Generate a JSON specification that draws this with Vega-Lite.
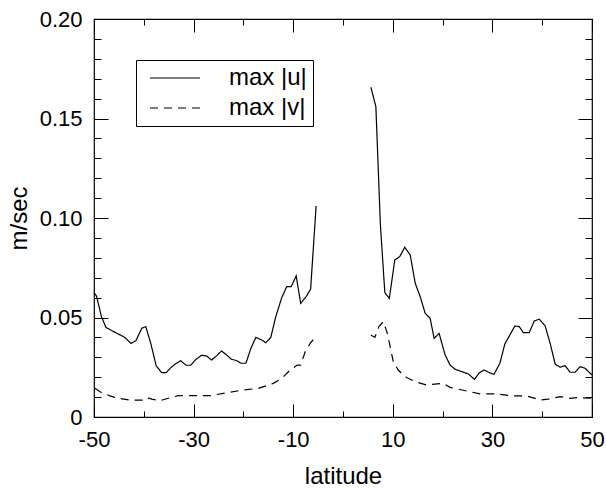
{
  "$schema": "https://vega.github.io/schema/vega-lite/v6.json",
  "width": 498,
  "height": 398,
  "autosize": {"type": "none"},
  "padding": {"left": 94, "top": 19, "right": 14, "bottom": 72},
  "background": "white",
  "config": {
    "font": "Liberation Sans",
    "view": {"stroke": "black", "strokeWidth": 1.2},
    "axis": {"zindex": 1, "grid": false, "domain": false, "labelFlush": false, "labelColor": "black", "titleColor": "black", "tickColor": "black", "tickWidth": 1, "labelFont": "Liberation Sans", "titleFont": "Liberation Sans", "titleFontWeight": "normal"}
  },
  "data": {"values": [
    {"lat": -50, "val": 0.0625, "series": "max |u|", "seg": "S"},
    {"lat": -49.5, "val": 0.0608, "series": "max |u|", "seg": "S"},
    {"lat": -48.5, "val": 0.0504, "series": "max |u|", "seg": "S"},
    {"lat": -47.6, "val": 0.045, "series": "max |u|", "seg": "S"},
    {"lat": -46.5, "val": 0.0435, "series": "max |u|", "seg": "S"},
    {"lat": -45.1, "val": 0.0417, "series": "max |u|", "seg": "S"},
    {"lat": -43.8, "val": 0.040, "series": "max |u|", "seg": "S"},
    {"lat": -42.6, "val": 0.037, "series": "max |u|", "seg": "S"},
    {"lat": -41.6, "val": 0.0383, "series": "max |u|", "seg": "S"},
    {"lat": -40.4, "val": 0.0446, "series": "max |u|", "seg": "S"},
    {"lat": -39.6, "val": 0.0454, "series": "max |u|", "seg": "S"},
    {"lat": -38.6, "val": 0.037, "series": "max |u|", "seg": "S"},
    {"lat": -37.5, "val": 0.0256, "series": "max |u|", "seg": "S"},
    {"lat": -36.4, "val": 0.0223, "series": "max |u|", "seg": "S"},
    {"lat": -35.5, "val": 0.0223, "series": "max |u|", "seg": "S"},
    {"lat": -34.7, "val": 0.0245, "series": "max |u|", "seg": "S"},
    {"lat": -33.7, "val": 0.0266, "series": "max |u|", "seg": "S"},
    {"lat": -32.6, "val": 0.0283, "series": "max |u|", "seg": "S"},
    {"lat": -31.5, "val": 0.026, "series": "max |u|", "seg": "S"},
    {"lat": -30.6, "val": 0.026, "series": "max |u|", "seg": "S"},
    {"lat": -29.5, "val": 0.029, "series": "max |u|", "seg": "S"},
    {"lat": -28.4, "val": 0.031, "series": "max |u|", "seg": "S"},
    {"lat": -27.4, "val": 0.0307, "series": "max |u|", "seg": "S"},
    {"lat": -26.4, "val": 0.0286, "series": "max |u|", "seg": "S"},
    {"lat": -25.4, "val": 0.0307, "series": "max |u|", "seg": "S"},
    {"lat": -24.4, "val": 0.0332, "series": "max |u|", "seg": "S"},
    {"lat": -23.4, "val": 0.0312, "series": "max |u|", "seg": "S"},
    {"lat": -22.4, "val": 0.029, "series": "max |u|", "seg": "S"},
    {"lat": -21.3, "val": 0.0283, "series": "max |u|", "seg": "S"},
    {"lat": -20.5, "val": 0.027, "series": "max |u|", "seg": "S"},
    {"lat": -19.5, "val": 0.027, "series": "max |u|", "seg": "S"},
    {"lat": -18.5, "val": 0.0345, "series": "max |u|", "seg": "S"},
    {"lat": -17.5, "val": 0.040, "series": "max |u|", "seg": "S"},
    {"lat": -16.3, "val": 0.0387, "series": "max |u|", "seg": "S"},
    {"lat": -15.5, "val": 0.0373, "series": "max |u|", "seg": "S"},
    {"lat": -14.5, "val": 0.040, "series": "max |u|", "seg": "S"},
    {"lat": -13.5, "val": 0.0504, "series": "max |u|", "seg": "S"},
    {"lat": -12.3, "val": 0.060, "series": "max |u|", "seg": "S"},
    {"lat": -11.3, "val": 0.0655, "series": "max |u|", "seg": "S"},
    {"lat": -10.4, "val": 0.0655, "series": "max |u|", "seg": "S"},
    {"lat": -9.4, "val": 0.0709, "series": "max |u|", "seg": "S"},
    {"lat": -8.5, "val": 0.0571, "series": "max |u|", "seg": "S"},
    {"lat": -7.4, "val": 0.0605, "series": "max |u|", "seg": "S"},
    {"lat": -6.5, "val": 0.0643, "series": "max |u|", "seg": "S"},
    {"lat": -5.4, "val": 0.106, "series": "max |u|", "seg": "S"},
    {"lat": 5.6, "val": 0.1657, "series": "max |u|", "seg": "N"},
    {"lat": 6.6, "val": 0.156, "series": "max |u|", "seg": "N"},
    {"lat": 7.5, "val": 0.097, "series": "max |u|", "seg": "N"},
    {"lat": 8.4, "val": 0.0625, "series": "max |u|", "seg": "N"},
    {"lat": 9.3, "val": 0.0596, "series": "max |u|", "seg": "N"},
    {"lat": 10.4, "val": 0.0789, "series": "max |u|", "seg": "N"},
    {"lat": 11.4, "val": 0.0806, "series": "max |u|", "seg": "N"},
    {"lat": 12.4, "val": 0.0853, "series": "max |u|", "seg": "N"},
    {"lat": 13.5, "val": 0.0814, "series": "max |u|", "seg": "N"},
    {"lat": 14.5, "val": 0.0672, "series": "max |u|", "seg": "N"},
    {"lat": 15.5, "val": 0.0605, "series": "max |u|", "seg": "N"},
    {"lat": 16.5, "val": 0.0521, "series": "max |u|", "seg": "N"},
    {"lat": 17.5, "val": 0.0496, "series": "max |u|", "seg": "N"},
    {"lat": 18.3, "val": 0.0395, "series": "max |u|", "seg": "N"},
    {"lat": 19.3, "val": 0.042, "series": "max |u|", "seg": "N"},
    {"lat": 20.5, "val": 0.0312, "series": "max |u|", "seg": "N"},
    {"lat": 21.5, "val": 0.0261, "series": "max |u|", "seg": "N"},
    {"lat": 22.5, "val": 0.024, "series": "max |u|", "seg": "N"},
    {"lat": 23.5, "val": 0.0231, "series": "max |u|", "seg": "N"},
    {"lat": 25.2, "val": 0.0216, "series": "max |u|", "seg": "N"},
    {"lat": 26.4, "val": 0.0189, "series": "max |u|", "seg": "N"},
    {"lat": 27.4, "val": 0.0223, "series": "max |u|", "seg": "N"},
    {"lat": 28.3, "val": 0.0236, "series": "max |u|", "seg": "N"},
    {"lat": 29.4, "val": 0.0223, "series": "max |u|", "seg": "N"},
    {"lat": 30.3, "val": 0.0214, "series": "max |u|", "seg": "N"},
    {"lat": 31.5, "val": 0.027, "series": "max |u|", "seg": "N"},
    {"lat": 32.5, "val": 0.0367, "series": "max |u|", "seg": "N"},
    {"lat": 33.5, "val": 0.0412, "series": "max |u|", "seg": "N"},
    {"lat": 34.5, "val": 0.0457, "series": "max |u|", "seg": "N"},
    {"lat": 35.4, "val": 0.0454, "series": "max |u|", "seg": "N"},
    {"lat": 36.2, "val": 0.0424, "series": "max |u|", "seg": "N"},
    {"lat": 37.4, "val": 0.0424, "series": "max |u|", "seg": "N"},
    {"lat": 38.4, "val": 0.0482, "series": "max |u|", "seg": "N"},
    {"lat": 39.4, "val": 0.0492, "series": "max |u|", "seg": "N"},
    {"lat": 40.6, "val": 0.0457, "series": "max |u|", "seg": "N"},
    {"lat": 41.6, "val": 0.037, "series": "max |u|", "seg": "N"},
    {"lat": 42.6, "val": 0.0266, "series": "max |u|", "seg": "N"},
    {"lat": 43.6, "val": 0.025, "series": "max |u|", "seg": "N"},
    {"lat": 44.6, "val": 0.0258, "series": "max |u|", "seg": "N"},
    {"lat": 45.6, "val": 0.0225, "series": "max |u|", "seg": "N"},
    {"lat": 46.6, "val": 0.0225, "series": "max |u|", "seg": "N"},
    {"lat": 47.6, "val": 0.0253, "series": "max |u|", "seg": "N"},
    {"lat": 48.6, "val": 0.0245, "series": "max |u|", "seg": "N"},
    {"lat": 50, "val": 0.0211, "series": "max |u|", "seg": "N"},
    {"lat": -49.8, "val": 0.0144, "series": "max |v|", "seg": "S"},
    {"lat": -48.8, "val": 0.0127, "series": "max |v|", "seg": "S"},
    {"lat": -46.8, "val": 0.0106, "series": "max |v|", "seg": "S"},
    {"lat": -45.1, "val": 0.0094, "series": "max |v|", "seg": "S"},
    {"lat": -42.8, "val": 0.0085, "series": "max |v|", "seg": "S"},
    {"lat": -40.1, "val": 0.0085, "series": "max |v|", "seg": "S"},
    {"lat": -39.3, "val": 0.0097, "series": "max |v|", "seg": "S"},
    {"lat": -38.4, "val": 0.009, "series": "max |v|", "seg": "S"},
    {"lat": -36.7, "val": 0.0082, "series": "max |v|", "seg": "S"},
    {"lat": -35.1, "val": 0.0094, "series": "max |v|", "seg": "S"},
    {"lat": -33.1, "val": 0.0107, "series": "max |v|", "seg": "S"},
    {"lat": -30.1, "val": 0.0107, "series": "max |v|", "seg": "S"},
    {"lat": -26.7, "val": 0.0107, "series": "max |v|", "seg": "S"},
    {"lat": -23.4, "val": 0.0122, "series": "max |v|", "seg": "S"},
    {"lat": -20.0, "val": 0.0136, "series": "max |v|", "seg": "S"},
    {"lat": -17.0, "val": 0.0144, "series": "max |v|", "seg": "S"},
    {"lat": -14.0, "val": 0.0169, "series": "max |v|", "seg": "S"},
    {"lat": -12.3, "val": 0.0194, "series": "max |v|", "seg": "S"},
    {"lat": -10.6, "val": 0.0236, "series": "max |v|", "seg": "S"},
    {"lat": -9.2, "val": 0.0261, "series": "max |v|", "seg": "S"},
    {"lat": -8.5, "val": 0.0261, "series": "max |v|", "seg": "S"},
    {"lat": -7.6, "val": 0.0328, "series": "max |v|", "seg": "S"},
    {"lat": -6.6, "val": 0.037, "series": "max |v|", "seg": "S"},
    {"lat": -5.6, "val": 0.040, "series": "max |v|", "seg": "S"},
    {"lat": 5.6, "val": 0.0412, "series": "max |v|", "seg": "N"},
    {"lat": 6.4, "val": 0.040, "series": "max |v|", "seg": "N"},
    {"lat": 7.2, "val": 0.0454, "series": "max |v|", "seg": "N"},
    {"lat": 8.1, "val": 0.0479, "series": "max |v|", "seg": "N"},
    {"lat": 8.8, "val": 0.0429, "series": "max |v|", "seg": "N"},
    {"lat": 9.4, "val": 0.0362, "series": "max |v|", "seg": "N"},
    {"lat": 10.1, "val": 0.0278, "series": "max |v|", "seg": "N"},
    {"lat": 11.1, "val": 0.0236, "series": "max |v|", "seg": "N"},
    {"lat": 12.4, "val": 0.0203, "series": "max |v|", "seg": "N"},
    {"lat": 14.5, "val": 0.0177, "series": "max |v|", "seg": "N"},
    {"lat": 16.8, "val": 0.0161, "series": "max |v|", "seg": "N"},
    {"lat": 20.1, "val": 0.0169, "series": "max |v|", "seg": "N"},
    {"lat": 21.5, "val": 0.0149, "series": "max |v|", "seg": "N"},
    {"lat": 25.5, "val": 0.0127, "series": "max |v|", "seg": "N"},
    {"lat": 27.5, "val": 0.0116, "series": "max |v|", "seg": "N"},
    {"lat": 30.9, "val": 0.0116, "series": "max |v|", "seg": "N"},
    {"lat": 34.2, "val": 0.0106, "series": "max |v|", "seg": "N"},
    {"lat": 36.9, "val": 0.0106, "series": "max |v|", "seg": "N"},
    {"lat": 39.6, "val": 0.0085, "series": "max |v|", "seg": "N"},
    {"lat": 41.2, "val": 0.009, "series": "max |v|", "seg": "N"},
    {"lat": 43.6, "val": 0.0102, "series": "max |v|", "seg": "N"},
    {"lat": 45.6, "val": 0.0094, "series": "max |v|", "seg": "N"},
    {"lat": 46.9, "val": 0.0097, "series": "max |v|", "seg": "N"},
    {"lat": 50, "val": 0.0094, "series": "max |v|", "seg": "N"}
  ]},
  "resolve": {"axis": {"x": "independent", "y": "independent"}},
  "layer": [
    {
      "mark": {"type": "line", "color": "black", "strokeWidth": 1.2},
      "encoding": {
        "x": {"field": "lat", "type": "quantitative", "scale": {"domain": [-50, 50], "nice": false, "zero": false},
              "axis": {"orient": "bottom", "zindex": 1, "values": [-50, -30, -10, 10, 30, 50], "ticks": true, "tickSize": -13, "labels": true, "labelExpr": "datum.value < 0 ? '-' + format(-datum.value, 'd') : format(datum.value, 'd')", "labelFontSize": 22, "labelPadding": 25, "title": "latitude", "titleFontSize": 24, "titlePadding": 14}},
        "y": {"field": "val", "type": "quantitative", "scale": {"domain": [0, 0.2], "nice": false, "zero": false},
              "axis": {"orient": "left", "zindex": 1, "values": [0, 0.05, 0.1, 0.15, 0.2], "ticks": true, "tickSize": -14, "labels": true, "labelExpr": "datum.value == 0 ? '0' : format(datum.value, '.2f')", "labelFontSize": 22, "labelPadding": 26, "title": "m/sec", "titleFontSize": 24, "titlePadding": 8}},
        "strokeDash": {"field": "series", "type": "nominal",
              "scale": {"domain": ["max |u|", "max |v|"], "range": [[1, 0], [8, 6]]},
              "legend": {"title": null, "orient": "none", "legendX": 42, "legendY": 41, "strokeColor": "black", "padding": 6, "symbolOffset": 21, "symbolType": "M-2.5,0H2.5", "symbolSize": 400, "symbolStrokeWidth": 1.2, "symbolStrokeColor": "black", "symbolFillColor": "transparent", "labelFontSize": 24, "labelFont": "Liberation Sans", "labelColor": "black", "labelOffset": 42, "rowPadding": 6, "fillColor": "white"}},
        "detail": {"field": "seg", "type": "nominal"}
      }
    },
    {
      "mark": {"type": "line", "opacity": 0},
      "encoding": {
        "x": {"field": "lat", "type": "quantitative", "axis": {"orient": "bottom", "zindex": 1, "tickCount": 10, "ticks": true, "tickSize": -6, "labels": true, "labelExpr": "''", "title": " "}},
        "y": {"field": "val", "type": "quantitative", "axis": {"orient": "left", "zindex": 1, "tickCount": 20, "ticks": true, "tickSize": -7, "labels": true, "labelExpr": "''", "title": " "}},
        "detail": {"field": "seg", "type": "nominal"}
      }
    },
    {
      "mark": {"type": "line", "opacity": 0},
      "encoding": {
        "x": {"field": "lat", "type": "quantitative", "axis": {"orient": "top", "zindex": 1, "values": [-50, -30, -10, 10, 30, 50], "ticks": true, "tickSize": -13, "labels": true, "labelExpr": "''", "title": " "}},
        "y": {"field": "val", "type": "quantitative", "axis": {"orient": "right", "zindex": 1, "values": [0, 0.05, 0.1, 0.15, 0.2], "ticks": true, "tickSize": -14, "labels": true, "labelExpr": "''", "title": " "}},
        "detail": {"field": "seg", "type": "nominal"}
      }
    },
    {
      "mark": {"type": "line", "opacity": 0},
      "encoding": {
        "x": {"field": "lat", "type": "quantitative", "axis": {"orient": "top", "zindex": 1, "tickCount": 10, "ticks": true, "tickSize": -6, "labels": true, "labelExpr": "''", "title": " "}},
        "y": {"field": "val", "type": "quantitative", "axis": {"orient": "right", "zindex": 1, "tickCount": 20, "ticks": true, "tickSize": -7, "labels": true, "labelExpr": "''", "title": " "}},
        "detail": {"field": "seg", "type": "nominal"}
      }
    }
  ]
}
